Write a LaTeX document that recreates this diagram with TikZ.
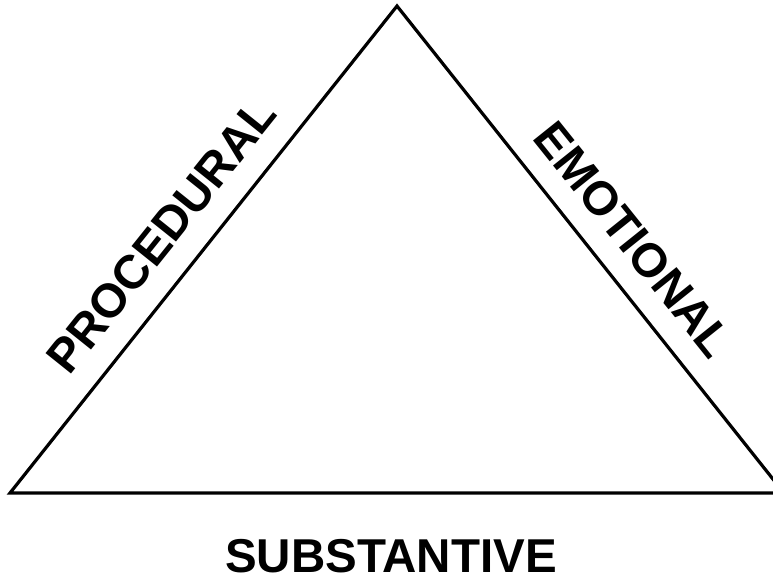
\documentclass[tikz,border=0pt]{standalone}
\usepackage{fontspec}
\setmainfont{Liberation Sans}
\begin{document}
\begin{tikzpicture}[x=1pt,y=-1pt,
  edge/.style={line width=3.2pt,line join=miter},
  lab/.style={font=\bfseries\fontsize{47.5}{52}\selectfont,inner sep=0pt,anchor=base}]
\useasboundingbox (0,0) rectangle (773,578);
\clip (0,0) rectangle (773,578);
\coordinate (apex) at (397,6);
\coordinate (bl) at (10,493);
\coordinate (br) at (784,493);
\draw[edge] (bl) -- (apex) -- (br) -- cycle;
\node[lab,rotate=51.3] (proc) at (174,246) {PROCEDURAL};
\node[lab,rotate=-51.3] (emo) at (621,250) {EMOTIONAL};
\node[lab,text depth=0pt] (sub) at (391,572) {SUBSTANTIVE};
\end{tikzpicture}
\end{document}
